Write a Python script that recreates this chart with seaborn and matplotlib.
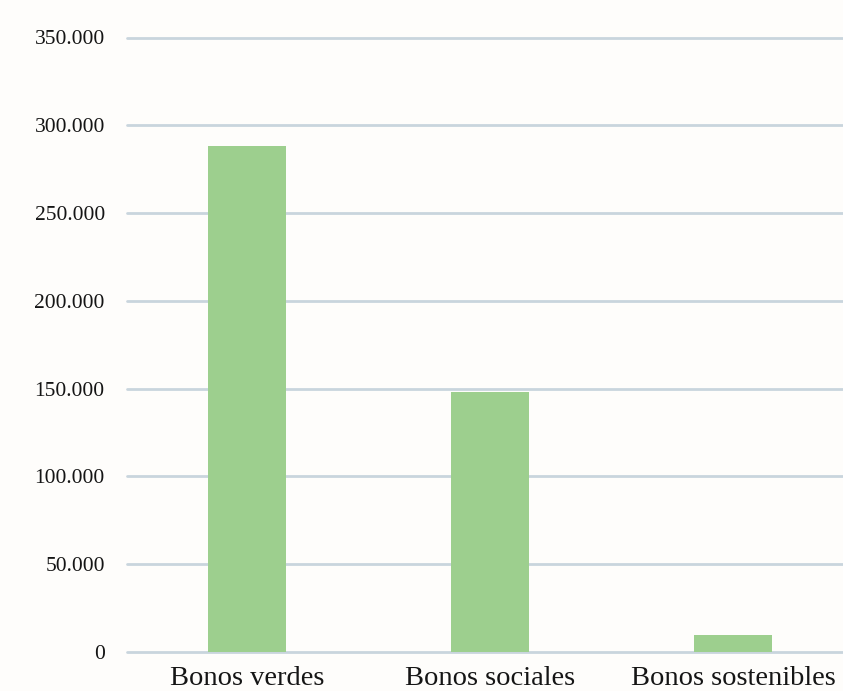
import numpy as np
import pandas as pd
import matplotlib
matplotlib.use("Agg")
import matplotlib.pyplot as plt
from matplotlib.ticker import FuncFormatter, MultipleLocator
import seaborn as sns

sns.set_theme(style="white")
plt.rcParams['font.family'] = ['Liberation Serif', 'DejaVu Serif']

categorias = ["Bonos verdes", "Bonos sociales", "Bonos sostenibles"]
valores = [288000, 148000, 9500]

df = pd.DataFrame({"categoria": categorias, "valor": valores})

fig = plt.figure(figsize=(8.43, 6.91), dpi=100, facecolor="#fefdfb")
ax = fig.add_axes([127 / 843, 1 - 652 / 691, 1 - 127 / 843, (652 - 37.5) / 691])
ax.set_facecolor("#fefdfb")

sns.barplot(data=df, x="categoria", y="valor", color="#9dcf8e", saturation=1,
            width=0.32, linewidth=0, ax=ax, zorder=3)

ax.set_ylim(0, 350000)
ax.set_xlim(-0.494, 2.453)
ax.yaxis.set_major_locator(MultipleLocator(50000))
ax.yaxis.set_major_formatter(FuncFormatter(lambda v, p: f"{int(v):,}".replace(",", ".")))
ax.grid(axis="y", color="#c9d5dd", linewidth=2)
ax.set_axisbelow(True)
for g in ax.get_ygridlines():
    g.set_clip_on(False)
for s in ax.spines.values():
    s.set_visible(False)

ax.set_xlabel("")
ax.set_ylabel("")
ax.tick_params(axis="y", length=0, pad=16, labelsize=15.5, labelcolor="#151515")
ax.tick_params(axis="x", length=0, pad=10, labelsize=20.5, labelcolor="#151515")

fig.savefig("out.png", dpi=100, facecolor=fig.get_facecolor())
